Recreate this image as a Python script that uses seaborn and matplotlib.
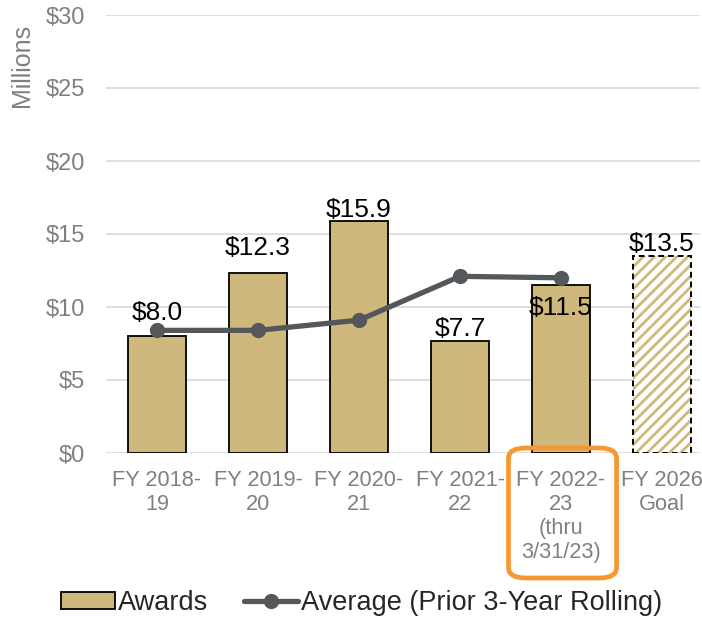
import matplotlib
matplotlib.use("Agg")
import matplotlib.pyplot as plt
import matplotlib.transforms as mtransforms
from matplotlib.patches import Rectangle, FancyBboxPatch, Patch
from matplotlib.lines import Line2D
import seaborn as sns
import pandas as pd

categories = ["FY 2018-\n19", "FY 2019-\n20", "FY 2020-\n21", "FY 2021-\n22",
              "FY 2022-\n23\n(thru\n3/31/23)", "FY 2026\nGoal"]
awards = [8.0, 12.3, 15.9, 7.7, 11.5, 13.5]
award_labels = ["$8.0", "$12.3", "$15.9", "$7.7", "$11.5", "$13.5"]
average = [8.4, 8.4, 9.1, 12.1, 12.0]
yticks = [0, 5, 10, 15, 20, 25, 30]
ytick_labels = ["$0", "$5", "$10", "$15", "$20", "$25", "$30"]

# label offsets in points (styling, not data)
label_offsets = [8, 10, -1, 0, -8, 0]

GOLD = "#CFB87C"
GRAY_LINE = "#54585A"
TXT_GRAY = "#808080"

sns.set_theme(style="white")
plt.rcParams["font.family"] = ["Liberation Sans", "DejaVu Sans"]
plt.rcParams["hatch.linewidth"] = 2.0

fig = plt.figure(figsize=(7.02, 6.18), dpi=100)
ax = fig.add_axes([106 / 702, (618 - 453) / 618, (700 - 106) / 702, (453 - 15) / 618])

df = pd.DataFrame({"cat": categories, "awards": awards})
sns.barplot(data=df, x="cat", y="awards", color=GOLD, saturation=1, width=0.575,
            edgecolor="black", linewidth=1.3, ax=ax, zorder=3)

# goal bar: hatched with dashed outline
goal = ax.patches[-1]
goal.set_facecolor("white")
goal.set_edgecolor(GOLD)
goal.set_hatch("///")
goal.set_linewidth(0)
outline = Rectangle(goal.get_xy(), goal.get_width(), goal.get_height(),
                    fill=False, edgecolor="black", linewidth=1.4, linestyle=(0, (3, 2)), zorder=4)
ax.add_patch(outline)

avg_df = pd.DataFrame({"x": list(range(len(average))), "avg": average})
sns.lineplot(data=avg_df, x="x", y="avg", color=GRAY_LINE, linewidth=3.8, marker="o",
             markersize=11, markeredgewidth=0, ax=ax, zorder=5)

for i, (v, lab, off) in enumerate(zip(awards, award_labels, label_offsets)):
    ax.annotate(lab, (i, v), xytext=(0, off), textcoords="offset points",
                ha="center", va="top" if off < -4 else "bottom",
                fontsize=19, color="black", zorder=6)

ax.set_xlim(-0.505, 5.376)
ax.set_ylim(0, 30)
ax.set_yticks(yticks)
ax.set_yticklabels(ytick_labels)
ax.yaxis.grid(True, color="#D9D9D9", linewidth=1.2, zorder=0)
ax.set_axisbelow(True)
for s in ax.spines.values():
    s.set_visible(False)
ax.tick_params(axis="y", colors=TXT_GRAY, labelsize=17, length=0, pad=15)
ax.tick_params(axis="x", colors=TXT_GRAY, labelsize=15.7, length=0, pad=12)
for t in ax.get_xticklabels():
    t.set_linespacing(1.2)
ax.set_xlabel("")
ax.set_ylabel("Millions", color=TXT_GRAY, fontsize=18)
ax.yaxis.set_label_coords(-0.122, 0.884)

# orange rounded box around the current-year label
trans = mtransforms.blended_transform_factory(ax.transData, fig.transFigure)
box = FancyBboxPatch((4 - 0.52, (618 - 578) / 618), 1.07, (578 - 448) / 618,
                     boxstyle="round,pad=0,rounding_size=0.17", transform=trans,
                     fill=False, edgecolor="#F7972F", linewidth=3.4, clip_on=False,
                     mutation_aspect=0.1)
fig.add_artist(box)

handles = [Patch(facecolor=GOLD, edgecolor="black", linewidth=1.3),
           Line2D([0], [0], color=GRAY_LINE, linewidth=3.8, marker="o", markersize=11,
                  markeredgewidth=0)]
fig.legend(handles, ["Awards", "Average (Prior 3-Year Rolling)"], loc="center",
           bbox_to_anchor=(0.515, (618 - 603) / 618), ncol=2, frameon=False,
           fontsize=19.5, handlelength=2.0, handleheight=0.6, handletextpad=0.12,
           columnspacing=1.3)

fig.savefig("out.png", dpi=100)
